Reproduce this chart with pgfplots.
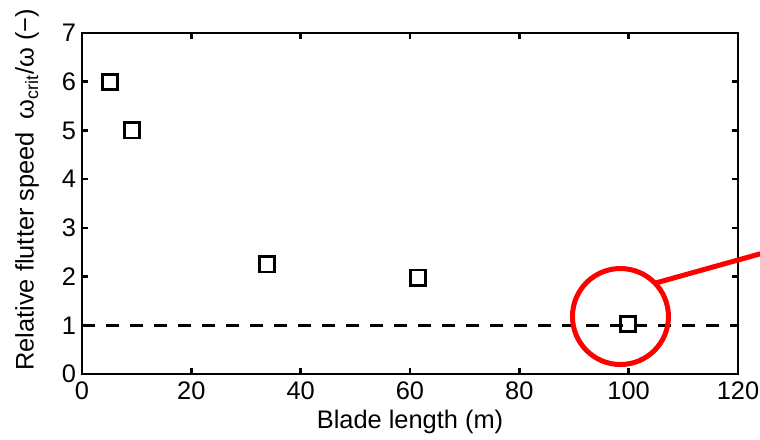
\documentclass[border=0pt]{standalone}
\usepackage{fontspec}
\setmainfont{Liberation Sans}
\usepackage{pgfplots}
\pgfplotsset{compat=1.18}

\begin{document}
\begin{tikzpicture}
\useasboundingbox (-41pt,-32.5pt) rectangle (339pt,187pt);
\clip (-41pt,-32.5pt) rectangle (339pt,187pt);
\begin{axis}[
    scale only axis,
    width=328pt, height=170.5pt,
    xmin=0, xmax=120, ymin=0, ymax=7,
    xtick={0,20,...,120}, ytick={0,1,...,7},
    tick align=inside,
    major tick length=3pt,
    axis line style={line width=1.4pt},
    every tick/.style={line width=1.3pt, black},
    font=\fontsize{12.7}{15}\selectfont,
    /pgf/number format/assume math mode=true,
    xticklabel style={yshift=-0.5pt},
    yticklabel style={xshift=0.5pt},
    xlabel={Blade length (m)},
    ylabel={Relative flutter speed\enspace ω\textsubscript{crit}/ω (−)},
    xlabel style={at={(axis description cs:0.5,-0.14)}, anchor=center},
    ylabel style={at={(axis description cs:-0.0838,0.54)}, anchor=center},
    clip=false
]
    % threshold
    \addplot[black, line width=1.4pt, dash pattern=on 6.5pt off 5.5pt]
        coordinates {(0,1) (120,1)};
    % flutter speed ratio
    \addplot[only marks, mark=square, mark size=3.8pt,
             mark options={line width=1.4pt, black}]
        coordinates {
            (5.1,6.0)
            (9.1,5.0)
            (33.8,2.25)
            (61.5,1.98)
            (99.9,1.03)
        };
    % highlight
    \draw[red, line width=2.5pt] (axis cs:98.5,1.18) circle[radius=24pt];
    \draw[red, line width=2.5pt] (axis cs:98.5,1.18) ++(44:24pt) -- ++(15.6:70pt);
\end{axis}
\end{tikzpicture}
\end{document}
